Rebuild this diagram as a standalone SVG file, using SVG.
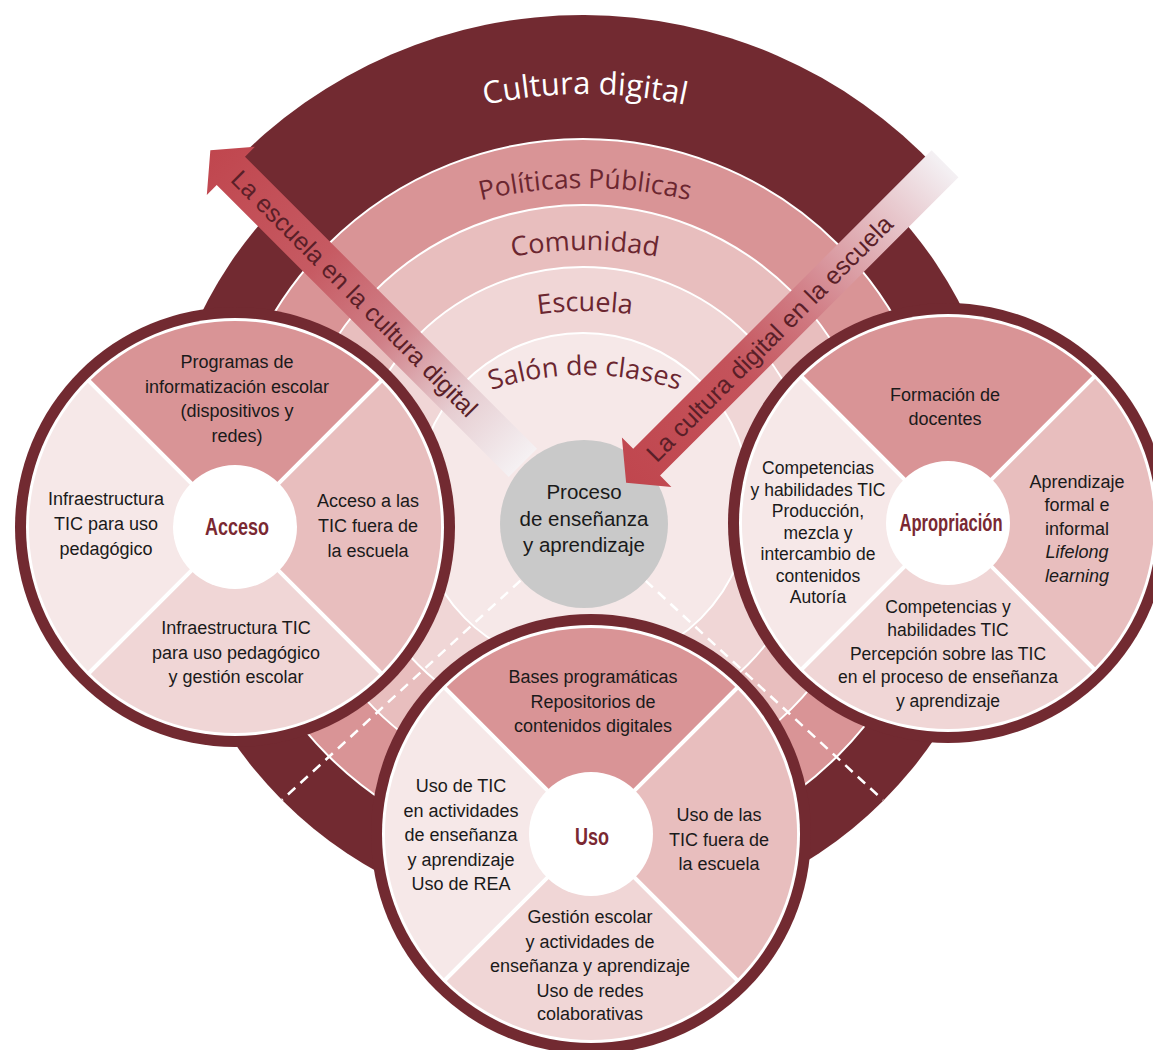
<svg xmlns="http://www.w3.org/2000/svg" xmlns:xlink="http://www.w3.org/1999/xlink" width="1153" height="1050" viewBox="0 0 1153 1050">
<defs>
<style>
.q{font-family:"Liberation Sans",Arial,sans-serif;font-size:18px;fill:#1a1a1a;text-anchor:middle}
.qs{font-size:17.5px}
.lbl{font-family:"Liberation Sans",Arial,sans-serif;font-weight:bold;font-size:23px;fill:#7a2832;text-anchor:middle}
.band{font-family:"Open Sans","Noto Sans",sans-serif;font-size:27px;fill:#6b2630;text-anchor:middle}
.arr{font-family:"Liberation Sans",Arial,sans-serif;font-size:25px;fill:#5a1f28;text-anchor:middle}
.ring{stroke:#fff;stroke-width:2}
.dash{stroke:#fff;stroke-width:2.5;stroke-dasharray:10 7;fill:none}
</style>
<linearGradient id="gL" gradientUnits="userSpaceOnUse" x1="85" y1="0" x2="527" y2="0">
<stop offset="0" stop-color="#f5f1f3"/>
<stop offset="0.2" stop-color="#e6cdd1"/>
<stop offset="0.42" stop-color="#d08088"/>
<stop offset="0.65" stop-color="#c65a62"/>
<stop offset="1" stop-color="#c0464e"/>
</linearGradient>
<linearGradient id="gR" gradientUnits="userSpaceOnUse" x1="59" y1="0" x2="510" y2="0">
<stop offset="0" stop-color="#c0464e"/>
<stop offset="0.35" stop-color="#c4535b"/>
<stop offset="0.55" stop-color="#d07a82"/>
<stop offset="0.78" stop-color="#e2b6bc"/>
<stop offset="1" stop-color="#f4f1f4"/>
</linearGradient>
<path id="pCul" d="M115,564 A470,470 0 0 1 1055,564"/>
<path id="pPol" d="M135,638 A450,450 0 0 1 1035,638"/>
<path id="pCom" d="M185,650 A400,400 0 0 1 985,650"/>
<path id="pEsc" d="M235,661 A350,350 0 0 1 935,661"/>
<path id="pSal" d="M285,675 A300,300 0 0 1 885,675"/>
<g id="quad">
<circle r="220" fill="#722a31"/>
<circle r="209" fill="#fff"/>
<path d="M0,0 L-145.7,-145.7 A206,206 0 0 1 145.7,-145.7 Z" fill="#d99496"/>
<path d="M0,0 L145.7,-145.7 A206,206 0 0 1 145.7,145.7 Z" fill="#e8bebe"/>
<path d="M0,0 L145.7,145.7 A206,206 0 0 1 -145.7,145.7 Z" fill="#f0d6d6"/>
<path d="M0,0 L-145.7,145.7 A206,206 0 0 1 -145.7,-145.7 Z" fill="#f6e8e8"/>
<path d="M-147,-147 L147,147 M147,-147 L-147,147" stroke="#fff" stroke-width="4"/>
<circle r="62" fill="#fff"/>
</g>
</defs>

<g id="cultura-digital">
<circle cx="583" cy="500" r="425" fill="#722a31"/>
<path d="M583,522 L229.7,167.7 A485,485 0 0 1 938.2,169.8 Z" fill="#722a31"/>
<text style="font-family:'Open Sans','Noto Sans',sans-serif;font-size:31px;fill:#fff;text-anchor:middle"><textPath href="#pCul" startOffset="50%">Cultura digital</textPath></text>
</g>

<g id="bandas">
<circle class="ring" cx="583" cy="500" r="361" fill="#d99496"/>
<circle class="ring" cx="583" cy="500" r="295" fill="#e8bebe"/>
<circle class="ring" cx="583" cy="500" r="233" fill="#f0d6d6"/>
<circle class="ring" cx="583" cy="500" r="167" fill="#f6e8e8"/>
<text class="band" style="font-size:26.5px"><textPath href="#pPol" startOffset="50%">Políticas Públicas</textPath></text>
<text class="band"><textPath href="#pCom" startOffset="50%">Comunidad</textPath></text>
<text class="band"><textPath href="#pEsc" startOffset="50%">Escuela</textPath></text>
<text class="band"><textPath href="#pSal" startOffset="50%">Salón de clases</textPath></text>
</g>

<g id="conectores">
<path class="dash" d="M583,523 L282,800"/>
<path class="dash" d="M583,523 L883,800"/>
<g id="flecha-escuela-en-cultura">
<path transform="translate(583,523) rotate(-135)" d="M85,-20 L498,-20 L498,-34 L527,0 L498,34 L498,20 L85,20 Z" fill="url(#gL)"/>
<text class="arr" transform="translate(354,294) rotate(45)" y="8">La escuela en la cultura digital</text>
</g>
</g>

<g id="proceso">
<circle cx="584" cy="524" r="84" fill="#c9c9c9"/>
<text class="q" style="font-size:20.5px"><tspan x="584" y="499">Proceso</tspan><tspan x="584" y="526">de enseñanza</tspan><tspan x="584" y="552">y aprendizaje</tspan></text>
</g>

<g id="flecha-cultura-en-escuela">
<path transform="translate(583,523) rotate(-45)" d="M510,-17 L88,-17 L88,-33 L59,2 L88,37 L88,21 L510,21 Z" fill="url(#gR)"/>
<text class="arr" transform="translate(770,339) rotate(-45)" y="8">La cultura digital en la escuela</text>
</g>

<g id="acceso">
<use href="#quad" x="235" y="527"/>
<text class="q"><tspan x="237" y="368">Programas de</tspan><tspan x="237" y="392.5">informatización escolar</tspan><tspan x="237" y="417">(dispositivos y</tspan><tspan x="237" y="441.5">redes)</tspan></text>
<text class="q"><tspan x="106" y="505">Infraestructura</tspan><tspan x="106" y="530">TIC para uso</tspan><tspan x="106" y="555">pedagógico</tspan></text>
<text class="q"><tspan x="368" y="507">Acceso a las</tspan><tspan x="368" y="532">TIC fuera de</tspan><tspan x="368" y="557">la escuela</tspan></text>
<text class="q"><tspan x="236" y="634">Infraestructura TIC</tspan><tspan x="236" y="658.5">para uso pedagógico</tspan><tspan x="236" y="683">y gestión escolar</tspan></text>
<text class="lbl" x="237" y="535" textLength="64" lengthAdjust="spacingAndGlyphs">Acceso</text>
</g>

<g id="apropiacion">
<use href="#quad" x="948" y="523"/>
<text class="q"><tspan x="945" y="401">Formación de</tspan><tspan x="945" y="425">docentes</tspan></text>
<text class="q qs"><tspan x="818" y="474.3">Competencias</tspan><tspan x="818" y="496">y habilidades TIC</tspan><tspan x="818" y="517.3">Producción,</tspan><tspan x="818" y="538.5">mezcla y</tspan><tspan x="818" y="560">intercambio de</tspan><tspan x="818" y="581.5">contenidos</tspan><tspan x="818" y="602.7">Autoría</tspan></text>
<text class="q"><tspan x="1077" y="488">Aprendizaje</tspan><tspan x="1077" y="511">formal e</tspan><tspan x="1077" y="534.5">informal</tspan><tspan x="1077" y="558" font-style="italic">Lifelong</tspan><tspan x="1077" y="581.5" font-style="italic">learning</tspan></text>
<text class="q qs"><tspan x="948" y="612.7">Competencias y</tspan><tspan x="948" y="636">habilidades TIC</tspan><tspan x="948" y="659.5">Percepción sobre las TIC</tspan><tspan x="948" y="683">en el proceso de enseñanza</tspan><tspan x="948" y="706.5">y aprendizaje</tspan></text>
<text class="lbl" x="951" y="531" textLength="103" lengthAdjust="spacingAndGlyphs">Apropriación</text>
</g>

<g id="uso">
<use href="#quad" x="591" y="834"/>
<text class="q"><tspan x="593" y="683.3">Bases programáticas</tspan><tspan x="593" y="707.7">Repositorios de</tspan><tspan x="593" y="731.7">contenidos digitales</tspan></text>
<text class="q"><tspan x="461" y="792.3">Uso de TIC</tspan><tspan x="461" y="816.7">en actividades</tspan><tspan x="461" y="841">de enseñanza</tspan><tspan x="461" y="865.5">y aprendizaje</tspan><tspan x="461" y="890">Uso de REA</tspan></text>
<text class="q"><tspan x="719" y="821">Uso de las</tspan><tspan x="719" y="845.5">TIC fuera de</tspan><tspan x="719" y="870">la escuela</tspan></text>
<text class="q"><tspan x="590" y="922.7">Gestión escolar</tspan><tspan x="590" y="947.5">y actividades de</tspan><tspan x="590" y="971.7">enseñanza y aprendizaje</tspan><tspan x="590" y="996.5">Uso de redes</tspan><tspan x="590" y="1020">colaborativas</tspan></text>
<text class="lbl" x="592" y="845" textLength="34" lengthAdjust="spacingAndGlyphs">Uso</text>
</g>
</svg>
